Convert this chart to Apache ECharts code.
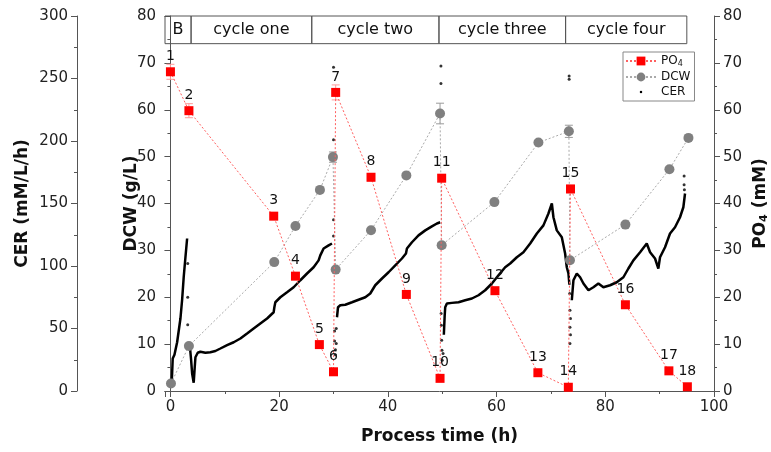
<!DOCTYPE html>
<html>
<head>
<meta charset="utf-8">
<title>PO4 / DCW / CER</title>
<script src="https://cdn.jsdelivr.net/npm/echarts@6/dist/echarts.min.js"></script>
<style>
html, body { margin: 0; padding: 0; background: #fff; }
#main { width: 771px; height: 452px; }
</style>
</head>
<body>
<div id="main"></div>
<script>
// PO4 (mM), right axis, labelled 1..18
const poTime = [0, 3.4, 19.0, 23.0, 27.4, 30.0, 30.4, 36.9, 43.4, 49.6, 49.9, 59.7, 67.6, 73.2, 73.6, 83.7, 91.7, 95.1];
const poValue = [68.1, 59.8, 37.3, 24.5, 9.9, 4.1, 63.7, 45.6, 20.6, 2.7, 45.4, 21.4, 3.9, 0.8, 43.1, 18.4, 4.3, 0.9];
const poErr = [1.6, 1.5, 0, 0, 0, 0, 1.6, 0.8, 0, 0, 0.7, 0, 0, 0, 0.8, 0, 0, 0];

// DCW (g/L)
const dcwTime = [0.1, 3.4, 19.1, 23.0, 27.5, 29.9, 30.4, 36.9, 43.4, 49.6, 49.9, 59.6, 67.7, 73.3, 73.5, 83.7, 91.8, 95.3];
const dcwValue = [1.6, 9.6, 27.5, 35.2, 42.9, 49.9, 25.9, 34.3, 46.0, 59.2, 31.1, 40.3, 53.0, 55.4, 27.9, 35.5, 47.3, 54.0];
const dcwErr = [0, 0.5, 0, 0, 0, 1.1, 0, 0, 0, 2.2, 0.6, 0, 0, 1.3, 0, 0, 0, 0];

// CER trace (mM/L/h); null breaks the trace
const cerTime = [
  0.18, 0.31, 0.42, 0.74, 1.23, 1.84, 2.15, 2.44, 2.76, 3.07, 3.1,
  3.55, 3.8, 3.99, 4.28, 4.47, 4.6, 5.02, 5.51, 6.43, 7.35, 8.27, 9.19, 10.42, 11.64, 12.87, 14.1, 15.31, 16.54, 17.78, 18.99, 19.12, 19.3, 20.22, 21.45, 22.67, 23.9, 25.13, 26.34, 27.26, 27.57, 28.18, 29.1, 29.72, 29.8,
  30.64, 30.83, 31.25, 32.17, 33.4, 34.61, 35.85, 36.76, 37.68, 38.92, 40.13, 41.36, 42.59, 43.33, 43.51, 44.43, 45.64, 46.88, 48.1, 49.03, 49.63, 49.7,
  50.3, 50.45, 50.55, 50.86, 51.78, 53.0, 54.23, 55.46, 56.67, 57.9, 59.14, 60.35, 61.58, 62.5, 63.73, 64.94, 66.18, 67.41, 68.62, 69.54, 70.17, 70.46, 71.08, 72.0, 72.61, 72.92, 73.22, 73.4, 73.45,
  73.84, 74.14, 74.76, 75.37, 75.98, 76.9, 77.81, 78.73, 79.65, 80.88, 82.11, 83.33, 84.25, 85.17, 86.4, 87.63, 88.24, 89.15, 89.76, 90.07, 90.99, 91.91, 92.83, 93.75, 94.36, 94.67
];
const cerValue = [
  3, 14, 26, 29, 39, 58, 73, 91, 107, 122, null,
  37, 25, 14, 6.6, 19, 27, 30.6, 31.4, 30.6, 31, 32, 34, 36.7, 39, 42, 46, 50, 54, 58, 63, 67, 71, 75, 79, 83, 88.6, 94, 99, 104.5, 108.5, 114, 116.5, 118, null,
  59, 67, 68.6, 69, 71, 73, 75, 78, 84.6, 90, 95, 100.5, 106, 110, 114, 119, 124.5, 128.5, 131.7, 134, 135, null,
  45, 60, 67, 70, 70.5, 71, 72.6, 74, 76.6, 80.6, 86, 92.6, 99, 102, 107, 111, 118, 126, 132.5, 142, 150, 139, 128.5, 123, 110, 99, 94, 85, null,
  72.6, 88.6, 94, 91, 86, 80.6, 83, 86, 83, 84.6, 87, 91, 98, 104.5, 111, 118, 111, 106, 98, 107, 115, 126, 131, 139, 147, 158
];

// loose CER points around each feed
const cerDotTime = [3.18, 3.18, 3.18, 30.0, 30.0, 30.0, 30.0, 30.2, 30.2, 30.35, 30.35, 30.5, 30.5,
  49.76, 49.76, 49.8, 49.85, 49.9, 49.95, 50.0, 50.15, 73.35, 73.35, 73.45, 73.5, 73.5, 73.5, 73.6, 73.6, 94.5, 94.5, 94.55];
const cerDotValue = [102, 75, 53, 259, 201, 137, 124, 48, 40, 33, 29, 38, 50,
  260, 246, 62, 52.7, 40.7, 32.7, 24.7, 30, 252, 249.5, 78, 64.6, 51, 38, 45, 58, 165, 172, 161];

// header band
const phaseNames = ['B', 'cycle one', 'cycle two', 'cycle three', 'cycle four'];
const phaseBounds = [-1, 3.8, 26.0, 49.4, 72.7, 95.0];
const bandBottom = 74.1;

const FONT = 'DejaVu Sans';
const AXIS_COLOR = '#555';

const chart = echarts.init(document.getElementById('main'));

function pairs(xs, ys) {
  return xs.map((x, i) => [x, ys[i] === null ? null : ys[i]]);
}

// vertical error bars with caps
function errorBars(name, xs, ys, errs, yIndex, color) {
  const data = [];
  xs.forEach((x, i) => {
    if (errs[i] > 0) data.push([x, ys[i] - errs[i], ys[i] + errs[i]]);
  });
  return {
    type: 'custom',
    name: name,
    yAxisIndex: yIndex,
    silent: true,
    z: 3,
    data: data,
    encode: { x: 0, y: [1, 2] },
    renderItem: function (params, api) {
      const lo = api.coord([api.value(0), api.value(1)]);
      const hi = api.coord([api.value(0), api.value(2)]);
      const w = 4;
      const st = { stroke: color, lineWidth: 1 };
      return {
        type: 'group',
        children: [
          { type: 'line', shape: { x1: lo[0], y1: lo[1], x2: hi[0], y2: hi[1] }, style: st },
          { type: 'line', shape: { x1: lo[0] - w, y1: lo[1], x2: lo[0] + w, y2: lo[1] }, style: st },
          { type: 'line', shape: { x1: hi[0] - w, y1: hi[1], x2: hi[0] + w, y2: hi[1] }, style: st }
        ]
      };
    }
  };
}

function yAxisBase(extra) {
  return Object.assign({
    type: 'value',
    min: 0,
    nameLocation: 'middle',
    nameRotate: 90,
    nameMoveOverlap: false,
    nameTextStyle: { fontFamily: FONT, fontWeight: 'bold', fontSize: 17, color: '#111' },
    axisLine: { show: true, lineStyle: { color: AXIS_COLOR, width: 1 } },
    axisTick: { show: true, inside: false, length: 6, lineStyle: { color: AXIS_COLOR } },
    minorTick: { show: true, splitNumber: 2, length: 3, lineStyle: { color: AXIS_COLOR } },
    axisLabel: { fontFamily: FONT, fontSize: 15, color: '#222', margin: 9 },
    splitLine: { show: false }
  }, extra);
}

const option = {
  animation: false,
  backgroundColor: '#fff',
  grid: { left: 165, right: 57, top: 16, bottom: 61, containLabel: false, outerBoundsMode: 'none' },
  legend: {
    orient: 'vertical',
    left: 623,
    top: 52,
    padding: [3, 4, 3, 2],
    itemGap: 3,
    itemWidth: 30,
    itemHeight: 11,
    borderColor: '#888',
    borderWidth: 1,
    selectedMode: false,
    textStyle: {
      fontFamily: FONT, fontSize: 12, color: '#111',
      rich: {
        n: { fontFamily: FONT, fontSize: 12, color: '#111' },
        s: { fontFamily: FONT, fontSize: 8, color: '#111', verticalAlign: 'bottom', padding: [6, 0, 0, 0] }
      }
    },
    formatter: function (name) {
      return name === 'PO4' ? '{n|PO}{s|4}' : name;
    },
    data: [
      { name: 'PO4' },
      { name: 'DCW' },
      { name: 'CER', icon: 'path://M0,0 M10,0 M10,10 M0,10 M4,4 L6,4 L6,6 L4,6 Z', itemStyle: { color: '#000' } }
    ]
  },
  xAxis: {
    type: 'value',
    min: -1,
    max: 100,
    splitNumber: 5,
    name: 'Process time (h)',
    nameLocation: 'middle',
    nameGap: 37,
    nameMoveOverlap: false,
    nameTextStyle: { fontFamily: FONT, fontWeight: 'bold', fontSize: 17, color: '#111' },
    axisLine: { show: true, onZero: false, lineStyle: { color: AXIS_COLOR, width: 1 } },
    axisTick: { show: true, inside: false, length: 6, lineStyle: { color: AXIS_COLOR } },
    minorTick: { show: true, splitNumber: 2, length: 3, lineStyle: { color: AXIS_COLOR } },
    axisLabel: { fontFamily: FONT, fontSize: 15, color: '#222', margin: 9, showMinLabel: false },
    splitLine: { show: false }
  },
  yAxis: [
    yAxisBase({ position: 'left', max: 80, interval: 10, name: 'DCW (g/L)', nameGap: 25 }),
    yAxisBase({ position: 'left', offset: 88, max: 300, interval: 50, name: 'CER (mM/L/h)', nameGap: 46 }),
    yAxisBase({
      position: 'right', max: 80, interval: 10,
      name: '{n|PO}{s|4}{n| (mM)}', nameGap: 37,
      nameTextStyle: {
        fontFamily: FONT, fontWeight: 'bold', fontSize: 17, color: '#111',
        rich: {
          n: { fontFamily: FONT, fontWeight: 'bold', fontSize: 17, color: '#111' },
          s: { fontFamily: FONT, fontWeight: 'bold', fontSize: 11, color: '#111', verticalAlign: 'bottom', padding: [8, 0, 0, 0] }
        }
      }
    })
  ],
  series: [
    {
      name: 'CER',
      type: 'line',
      yAxisIndex: 1,
      data: pairs(cerTime, cerValue),
      showSymbol: false,
      connectNulls: false,
      lineStyle: { color: '#000', width: 2.5 },
      itemStyle: { color: '#000' },
      z: 1
    },
    {
      name: 'CER',
      type: 'scatter',
      yAxisIndex: 1,
      data: pairs(cerDotTime, cerDotValue),
      symbolSize: 3,
      itemStyle: { color: '#000' },
      z: 1
    },
    errorBars('DCW err', dcwTime, dcwValue, dcwErr, 0, '#9a9a9a'),
    {
      name: 'DCW',
      type: 'line',
      yAxisIndex: 0,
      data: pairs(dcwTime, dcwValue),
      symbol: 'circle',
      symbolSize: 10,
      itemStyle: { color: '#808080' },
      lineStyle: { color: '#aaaaaa', width: 1, type: [2, 2] },
      z: 4,
      markArea: {
        silent: true,
        itemStyle: { color: 'rgba(0,0,0,0)', borderColor: AXIS_COLOR, borderWidth: 1 },
        label: { show: true, position: 'inside', fontFamily: FONT, fontSize: 16, color: '#111' },
        data: phaseNames.map((n, i) => [
          { name: n, xAxis: phaseBounds[i], yAxis: bandBottom },
          { xAxis: phaseBounds[i + 1], yAxis: 80 }
        ])
      }
    },
    errorBars('PO4 err', poTime, poValue, poErr, 2, '#ff9a9a'),
    {
      name: 'PO4',
      type: 'line',
      yAxisIndex: 2,
      data: pairs(poTime, poValue),
      symbol: 'rect',
      symbolSize: 9,
      itemStyle: { color: '#ff0000' },
      lineStyle: { color: '#ff6060', width: 1, type: [2, 2] },
      label: {
        show: true,
        position: 'top',
        distance: 4,
        fontFamily: FONT,
        fontSize: 14,
        color: '#111',
        formatter: p => String(p.dataIndex + 1)
      },
      z: 5
    }
  ]
};

chart.setOption(option);
</script>
</body>
</html>
